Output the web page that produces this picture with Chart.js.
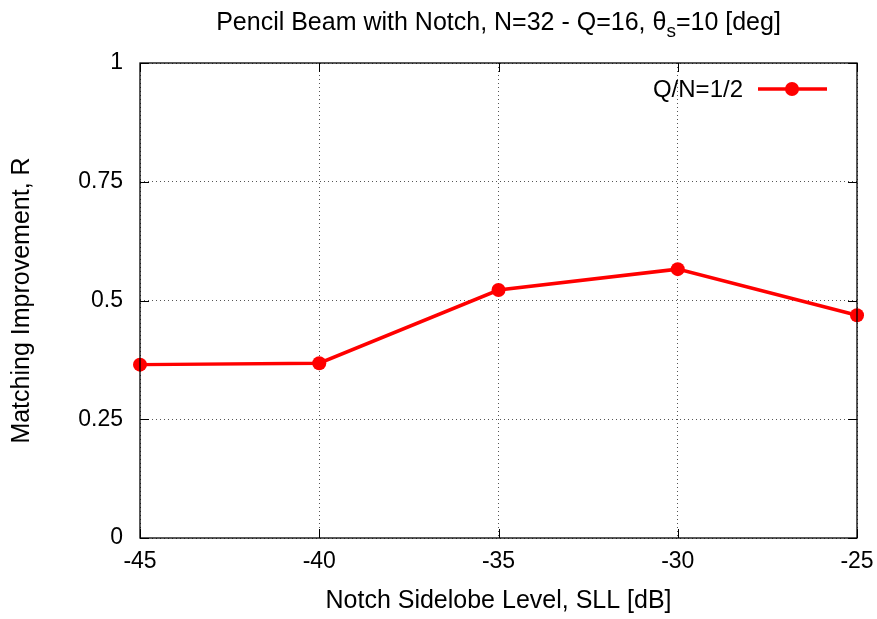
<!DOCTYPE html>
<html><head><meta charset="utf-8">
<script src="https://cdn.jsdelivr.net/npm/chart.js@4/dist/chart.umd.min.js"></script>
<style>html,body{margin:0;padding:0;background:#fff}#c{display:block}</style>
</head><body>
<canvas id="c" width="877" height="619"></canvas>
<script>
const sllValues = [-45, -40, -35, -30, -25];
const matchingR = [0.365, 0.368, 0.522, 0.566, 0.469];
const xTicks = [-45, -40, -35, -30, -25];
const yTicks = [0, 0.25, 0.5, 0.75, 1];
const seriesLabel = 'Q/N=1/2';
const FONT = '"Liberation Sans", Arial, sans-serif';
const FS = 23;
const TFS = 25;

const decor = {
  id: 'decor',
  afterDraw(chart) {
    const ctx = chart.ctx, a = chart.chartArea;
    const xs = chart.scales.x, ys = chart.scales.y;
    ctx.save();
    ctx.strokeStyle = '#000'; ctx.lineWidth = 1.3;
    ctx.strokeRect(a.left, a.top, a.right - a.left, a.bottom - a.top);
    ctx.lineWidth = 1;
    xTicks.forEach(v => {
      const px = Math.round(xs.getPixelForValue(v)) + 0.5;
      ctx.beginPath(); ctx.moveTo(px, a.bottom); ctx.lineTo(px, a.bottom - 9);
      ctx.moveTo(px, a.top); ctx.lineTo(px, a.top + 9); ctx.stroke();
    });
    yTicks.forEach(v => {
      const py = Math.round(ys.getPixelForValue(v)) + 0.5;
      ctx.beginPath(); ctx.moveTo(a.left, py); ctx.lineTo(a.left + 9, py);
      ctx.moveTo(a.right, py); ctx.lineTo(a.right - 9, py); ctx.stroke();
    });
    // title with subscript
    ctx.fillStyle = '#000';
    ctx.textBaseline = 'alphabetic';
    const p1 = 'Pencil Beam with Notch, N=32 - Q=16, θ';
    const sub = 's';
    const p2 = '=10 [deg]';
    ctx.font = TFS + 'px ' + FONT; const w1 = ctx.measureText(p1).width;
    ctx.font = '19px ' + FONT; const ws = ctx.measureText(sub).width;
    ctx.font = TFS + 'px ' + FONT; const w2 = ctx.measureText(p2).width;
    let tx = (a.left + a.right) / 2 - (w1 + ws + w2) / 2;
    ctx.textAlign = 'left';
    ctx.fillText(p1, tx, 30); tx += w1;
    ctx.font = '19px ' + FONT; ctx.fillText(sub, tx, 37); tx += ws;
    ctx.font = TFS + 'px ' + FONT; ctx.fillText(p2, tx, 30);
    // axis titles
    ctx.textAlign = 'center'; ctx.textBaseline = 'middle';
    ctx.fillText('Notch Sidelobe Level, SLL [dB]', (a.left + a.right) / 2, 601);
    ctx.save();
    ctx.translate(22, (a.top + a.bottom) / 2);
    ctx.rotate(-Math.PI / 2);
    ctx.fillText('Matching Improvement, R', 0, 0);
    ctx.restore();
    // legend
    ctx.font = '24px ' + FONT;
    ctx.textAlign = 'right';
    ctx.fillText(seriesLabel, 743, 90);
    ctx.strokeStyle = '#ff0000'; ctx.lineWidth = 3.5;
    ctx.beginPath(); ctx.moveTo(758, 89); ctx.lineTo(827, 89); ctx.stroke();
    ctx.fillStyle = '#ff0000';
    ctx.beginPath(); ctx.arc(792, 89, 7, 0, Math.PI * 2); ctx.fill();
    ctx.restore();
  }
};

new Chart(document.getElementById('c'), {
  type: 'line',
  data: {
    datasets: [{
      label: seriesLabel,
      data: sllValues.map((x, i) => ({x, y: matchingR[i]})),
      borderColor: '#ff0000',
      backgroundColor: '#ff0000',
      borderWidth: 3.5,
      pointRadius: 7,
      pointHoverRadius: 7,
      pointBorderWidth: 0,
      tension: 0,
      clip: false
    }]
  },
  options: {
    responsive: false,
    animation: false,
    events: [],
    layout: { padding: { left: 0, right: 20, top: 63, bottom: 0 } },
    plugins: { legend: { display: false }, title: { display: false }, tooltip: { enabled: false } },
    scales: {
      x: {
        type: 'linear', min: -45, max: -25,
        afterFit(s) { s.height = 81; s.paddingLeft = 0; s.paddingRight = 0; },
        afterBuildTicks(s) { s.ticks = xTicks.map(v => ({value: v})); },
        grid: { color: '#555', lineWidth: 1, drawTicks: false },
        border: { display: false, dash: [1, 3] },
        ticks: { color: '#000', font: { size: FS, family: FONT }, padding: 10, maxRotation: 0,
          callback: v => String(v) }
      },
      y: {
        min: 0, max: 1,
        afterFit(s) { s.width = 140; s.paddingTop = 0; s.paddingBottom = 0; },
        afterBuildTicks(s) { s.ticks = yTicks.map(v => ({value: v})); },
        grid: { color: '#555', lineWidth: 1, drawTicks: false },
        border: { display: false, dash: [1, 3] },
        ticks: { color: '#000', font: { size: FS, family: FONT }, padding: 17,
          callback: v => String(v) }
      }
    }
  },
  plugins: [decor]
});
</script>
</body></html>
